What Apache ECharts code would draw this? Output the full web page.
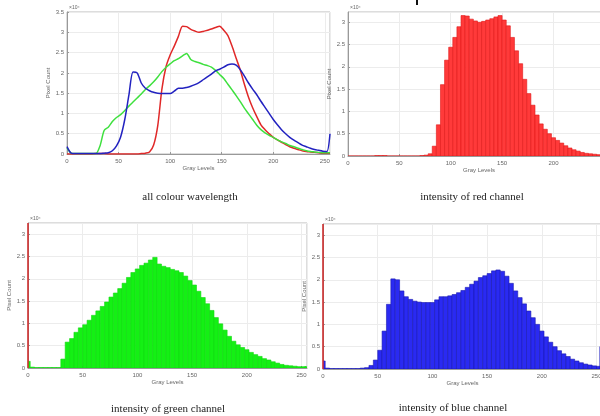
<!DOCTYPE html>
<html>
  <head>
    <meta charset="utf-8" />
    <title>RGB histograms</title>
    <script src="https://cdn.jsdelivr.net/npm/echarts@6/dist/echarts.min.js"></script>
    <style>
      * {
        margin: 0;
        padding: 0;
        box-sizing: border-box;
      }
      html,
      body {
        background: #fff;
        overflow: hidden;
        width: 600px;
        height: 416px;
      }
    </style>
  </head>
  <body>
    <!-- wider than the window: the right-hand panels run off the edge, as in the source -->
    <div id="main" style="width: 620px; height: 416px"></div>
    <script type="text/javascript">
      var myChart = echarts.init(document.getElementById("main"));

      // gray levels (bins of 4)
      const levels = [
        0, 4, 8, 12, 16, 20, 24, 28, 32, 36, 40, 44, 48, 52, 56, 60, 64, 68, 72,
        76, 80, 84, 88, 92, 96, 100, 104, 108, 112, 116, 120, 124, 128, 132, 136,
        140, 144, 148, 152, 156, 160, 164, 168, 172, 176, 180, 184, 188, 192, 196,
        200, 204, 208, 212, 216, 220, 224, 228, 232, 236, 240, 244, 248, 252, 255,
      ];
      // pixel counts, in units of 10^4
      const redCounts = [
        0, 0, 0, 0, 0, 0, 0, 0.01, 0.01, 0.01, 0, 0, 0, 0, 0, 0, 0, 0, 0.01,
        0.02, 0.05, 0.22, 0.7, 1.6, 2.15, 2.44, 2.66, 2.9, 3.15, 3.14, 3.07,
        3.03, 3.0, 3.02, 3.05, 3.08, 3.12, 3.15, 3.05, 2.92, 2.66, 2.36, 2.07,
        1.72, 1.4, 1.14, 0.92, 0.72, 0.6, 0.5, 0.41, 0.35, 0.29, 0.23, 0.18,
        0.14, 0.11, 0.08, 0.06, 0.05, 0.04, 0.03, 0.02, 0.02, 0.02,
      ];
      const greenCounts = [
        0.15, 0.02, 0.01, 0.01, 0.01, 0.01, 0.01, 0.01, 0.2, 0.58, 0.66, 0.8,
        0.9, 0.97, 1.07, 1.18, 1.28, 1.38, 1.48, 1.59, 1.68, 1.78, 1.9, 2.03,
        2.14, 2.22, 2.3, 2.35, 2.42, 2.48, 2.33, 2.28, 2.25, 2.21, 2.18, 2.14,
        2.06, 1.96, 1.86, 1.72, 1.58, 1.44, 1.29, 1.13, 0.99, 0.85, 0.71, 0.6,
        0.52, 0.46, 0.41, 0.35, 0.3, 0.26, 0.21, 0.18, 0.14, 0.11, 0.08, 0.06,
        0.05, 0.04, 0.03, 0.03, 0.03,
      ];
      const blueCounts = [
        0.18, 0.02, 0.01, 0.01, 0.01, 0.01, 0.01, 0.01, 0.01, 0.02, 0.03, 0.08,
        0.2, 0.42, 0.85, 1.45, 2.02, 2.0, 1.75, 1.62, 1.56, 1.52, 1.5, 1.49,
        1.49, 1.49, 1.55, 1.62, 1.62, 1.64, 1.67, 1.71, 1.76, 1.83, 1.9, 1.97,
        2.05, 2.09, 2.14, 2.2, 2.22, 2.19, 2.08, 1.92, 1.75, 1.6, 1.46, 1.3,
        1.15, 1.0, 0.85, 0.72, 0.6, 0.5, 0.41, 0.34, 0.28, 0.22, 0.18, 0.14,
        0.11, 0.09, 0.07, 0.06, 0.5,
      ];
      const captions = [
        "all colour wavelength",
        "intensity of red channel",
        "intensity of green channel",
        "intensity of blue channel",
      ];

      const pairs = (arr) => levels.map((l, i) => [l, arr[i]]);

      // grid boxes [left, top, width, height] and y max for each panel
      const boxes = [
        [67, 12, 263, 142, 3.5],
        [348, 12, 262, 144, 3.23],
        [28, 223, 279, 145, 3.25],
        [323, 224, 279, 145, 3.25],
      ];
      const yNameGap = [13, 14, 12, 12];

      const tickFont = { fontSize: 6, color: "#666", fontFamily: "Liberation Sans" };

      function xAxisFor(i) {
        return {
          gridIndex: i,
          type: "value",
          min: 0,
          max: 255,
          interval: 50,
          name: "Gray Levels",
          nameLocation: "middle",
          nameGap: 11,
          nameTextStyle: tickFont,
          axisLine: { lineStyle: { color: "#999", width: 1 } },
          axisTick: { inside: true, length: 2, lineStyle: { color: "#999" } },
          axisLabel: Object.assign({ margin: 4, showMaxLabel: false }, tickFont),
          splitLine: { show: true, lineStyle: { color: "#ececec", width: 1 } },
        };
      }
      function yAxisFor(i) {
        return {
          gridIndex: i,
          type: "value",
          min: 0,
          max: boxes[i][4],
          interval: 0.5,
          name: "Pixel Count",
          nameLocation: "middle",
          nameGap: yNameGap[i],
          nameTextStyle: tickFont,
          axisLine: { show: true, lineStyle: { color: "#999", width: 1 } },
          axisTick: { show: true, inside: true, length: 2, lineStyle: { color: "#999" } },
          axisLabel: Object.assign(
            { margin: 3, showMaxLabel: i === 0, showMinLabel: true },
            tickFont
          ),
          splitLine: { show: true, lineStyle: { color: "#ececec", width: 1 } },
        };
      }

      function histSeries(i, data, fill, stroke) {
        return {
          type: "custom",
          xAxisIndex: i,
          yAxisIndex: i,
          clip: true,
          renderItem: function (params, api) {
            const x = api.value(0);
            const y = api.value(1);
            const p0 = api.coord([x - 2, 0]);
            const p1 = api.coord([x + 2, y]);
            return {
              type: "rect",
              shape: {
                x: p0[0],
                y: p1[1],
                width: p1[0] - p0[0],
                height: p0[1] - p1[1],
              },
              style: { fill: fill, stroke: stroke, lineWidth: 0.6 },
            };
          },
          data: data,
        };
      }
      function zeroLine() {
        return {
          silent: true,
          symbol: "none",
          label: { show: false },
          lineStyle: { color: "#d42a2a", width: 1.5, type: "solid" },
          data: [{ xAxis: 0 }],
        };
      }

      const lineStyleFor = (c) => ({
        type: "line",
        xAxisIndex: 0,
        yAxisIndex: 0,
        showSymbol: false,
        smooth: 0.25,
        lineStyle: { color: c, width: 1.5 },
      });

      const graphics = [];
      boxes.forEach((b) => {
        graphics.push({
          type: "text",
          left: b[0] + 2,
          top: b[1] - 7,
          style: { text: "×10⁴", fontSize: 5, fill: "#666", fontFamily: "Liberation Sans" },
        });
      });
      const capPos = [
        [190, 197],
        [472, 197],
        [168, 409],
        [453, 408],
      ];
      captions.forEach((t, i) => {
        graphics.push({
          type: "text",
          x: capPos[i][0],
          y: capPos[i][1],
          style: {
            text: t,
            fontSize: 11,
            fill: "#222",
            fontFamily: "Liberation Serif",
            align: "center",
            verticalAlign: "middle",
          },
        });
      });
      // small dark mark at the top edge of the source image
      graphics.push({
        type: "rect",
        shape: { x: 416, y: 0, width: 2, height: 5 },
        style: { fill: "#111" },
      });

      var option = {
        animation: false,
        backgroundColor: "#fff",
        grid: boxes.map((b) => ({
          left: b[0],
          top: b[1],
          width: b[2],
          height: b[3],
          show: true,
          borderColor: "#bbb",
          borderWidth: 1,
          backgroundColor: "#fff",
          containLabel: false,
        })),
        xAxis: boxes.map((b, i) => xAxisFor(i)),
        yAxis: boxes.map((b, i) => yAxisFor(i)),
        graphic: graphics,
        series: [
          Object.assign(lineStyleFor("#e02828"), { data: pairs(redCounts) }),
          Object.assign(lineStyleFor("#3ee03e"), { data: pairs(greenCounts) }),
          Object.assign(lineStyleFor("#2222c0"), { data: pairs(blueCounts) }),
          histSeries(1, pairs(redCounts), "#ff3a3a", "#e01818"),
          Object.assign(histSeries(2, pairs(greenCounts), "#14f014", "#10d810"), {
            markLine: zeroLine(),
          }),
          Object.assign(histSeries(3, pairs(blueCounts), "#2a2af2", "#1a1ab0"), {
            markLine: zeroLine(),
          }),
        ],
      };

      myChart.setOption(option);
    </script>
  </body>
</html>
